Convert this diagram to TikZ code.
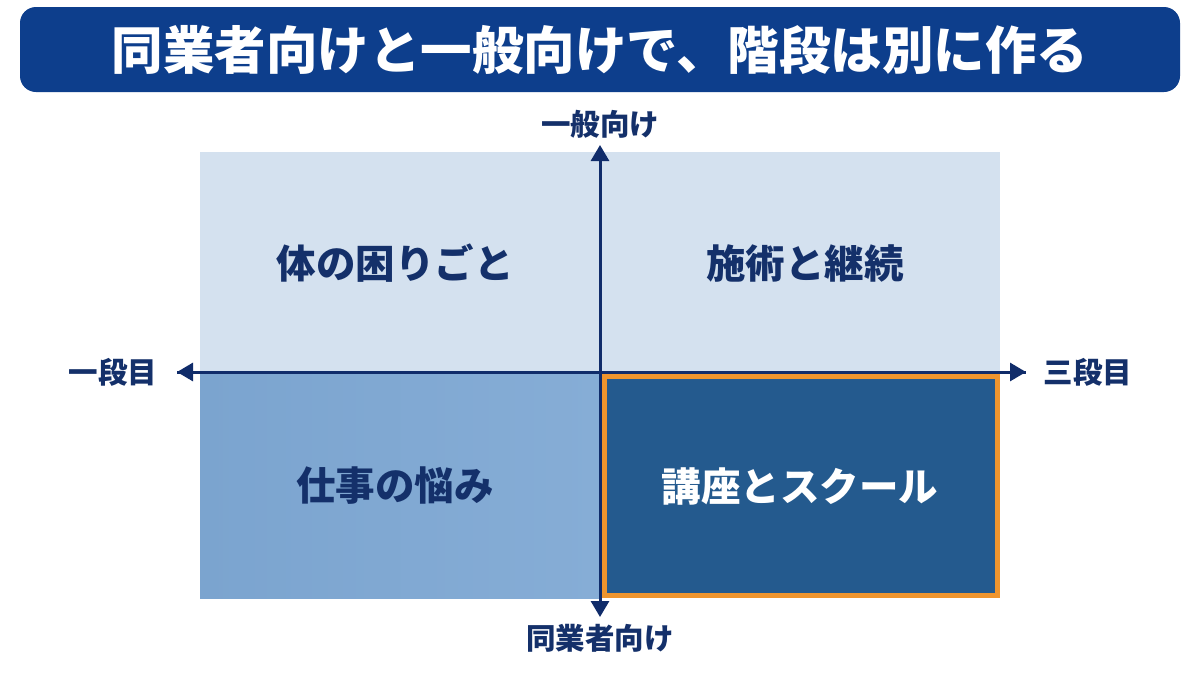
\documentclass[tikz,border=0pt]{standalone}
\usepackage{fontspec}
\setmainfont{Noto Sans CJK JP}
\usetikzlibrary{arrows.meta}
\definecolor{titlebg}{HTML}{0D3E8C}
\definecolor{axiscol}{HTML}{102C6A}
\definecolor{txtnavy}{HTML}{14306A}
\definecolor{qlight}{HTML}{D4E1EF}
\definecolor{qmidL}{HTML}{7BA4CF}
\definecolor{qmidR}{HTML}{86ADD6}
\definecolor{qdark}{HTML}{245A8E}
\definecolor{qorange}{HTML}{EF952E}
\tikzset{
  axisline/.style={draw=axiscol, line width=3pt, -{Triangle[length=16pt,width=18pt]}},
  qlabel/.style={font=\bfseries\fontsize{39.5}{44}\selectfont, text=txtnavy},
  alabel/.style={font=\bfseries\fontsize{29.5}{34}\selectfont, text=txtnavy},
}
\begin{document}
\begin{tikzpicture}[x=1pt,y=-1pt]
\useasboundingbox (0,0) rectangle (1200,675);
\fill[white] (0,0) rectangle (1200,675);
% title
\node[fill=titlebg, rounded corners=16pt, minimum width=1160pt, minimum height=85pt, inner sep=0pt,
      text=white, font=\bfseries\fontsize{51.5}{56}\selectfont] (title) at (600,49.5)
  {同業者向けと一般向けで、階段は別に作る};
% quadrants
\fill[qlight] (200,152) rectangle (600,372);
\fill[qlight] (600,152) rectangle (1000,372);
\shade[left color=qmidL, right color=qmidR] (200,372) rectangle (600,598);
\draw[qorange, fill=qdark, line width=5pt] (604.5,376.5) rectangle (997.5,595.5);
\node[qlabel] (q1) at (395,263) {体の困りごと};
\node[qlabel] (q2) at (805,263) {施術と継続};
\node[qlabel] (q3) at (395,486) {仕事の悩み};
\node[qlabel, text=white] (q4) at (800,486) {講座とスクール};
% axes
\coordinate (c) at (600,372);
\coordinate (left) at (177,372);
\coordinate (right) at (1026,372);
\coordinate (top) at (600,145);
\coordinate (bottom) at (600,617);
\draw[axiscol, line width=3pt] (left) -- (right);
\draw[axisline] (c) -- (left);
\draw[axisline] (c) -- (right);
\draw[axisline] (c) -- (top);
\draw[axisline] (c) -- (bottom);
\node[alabel] (a1) at (600,124) {一般向け};
\node[alabel] (a2) at (113,372) {一段目};
\node[alabel] (a3) at (1088,372) {三段目};
\node[alabel] (a4) at (600,638) {同業者向け};
\end{tikzpicture}
\end{document}
